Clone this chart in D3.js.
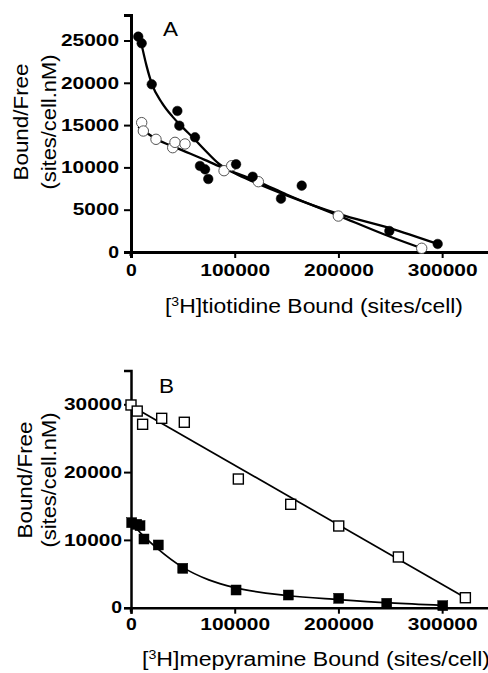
<!DOCTYPE html>
<html>
<head>
<meta charset="utf-8">
<script src="https://cdn.jsdelivr.net/npm/d3@7"></script>
<style>
body { margin: 0; background: #fff; }
svg { display: block; }
</style>
</head>
<body>
<svg id="chart" width="488" height="673"></svg>
<script>
// ---- panel A : [3H]tiotidine ----
var tioFilledX = [7000, 10300, 20000, 44700, 46600, 61700, 66500, 71400, 74500, 101300, 117300, 144600, 164600, 249100, 295700];
var tioFilledY = [25450, 24670, 19820, 16670, 14930, 13560, 10170, 9770, 8630, 10370, 8900, 6300, 7840, 2480, 950];
var tioOpenX = [10300, 11900, 24100, 40200, 42400, 52100, 89700, 97100, 122800, 199900, 280300];
var tioOpenY = [15290, 14300, 13320, 12330, 12960, 12770, 9610, 10200, 8310, 4250, 440];
// fitted curves
var tioFilledFitX = [9000, 15000, 20000, 30000, 40000, 50000, 60000, 70000, 85000, 100000, 120000, 150000, 200000, 250000, 295700];
var tioFilledFitY = [25200, 22000, 19900, 17600, 16000, 14700, 13500, 12200, 10400, 9300, 8200, 6700, 4500, 2800, 950];
var tioOpenFitX = [7000, 23000, 45000, 70000, 86000, 122800, 150000, 200000, 250000, 280300];
var tioOpenFitY = [14800, 13450, 12250, 10950, 10080, 8300, 6800, 4300, 1800, 440];

// ---- panel B : [3H]mepyramine ----
var mepOpenX = [0, 6000, 11200, 29600, 51400, 103500, 154000, 200300, 257800, 322400];
var mepOpenY = [29900, 29000, 27050, 27930, 27350, 18980, 15250, 12050, 7480, 1470];
var mepFilledX = [700, 5500, 8700, 12500, 26300, 49900, 101300, 151700, 200300, 246600, 300600];
var mepFilledY = [12540, 12300, 12100, 10130, 9250, 5810, 2610, 1870, 1390, 650, 300];
var mepOpenFitX = [0, 322400];
var mepOpenFitY = [29800, 1470];
var mepFilledFitX = [0, 10000, 25000, 50000, 75000, 100000, 150000, 200000, 250000, 300000];
var mepFilledFitY = [12600, 10900, 8800, 5950, 4100, 2950, 1800, 1200, 700, 350];

var xTicks = [0, 100000, 200000, 300000];
var yTicksA = [0, 5000, 10000, 15000, 20000, 25000];
var yTicksB = [0, 10000, 20000, 30000];

var svg = d3.select('#chart');
var font = 'Liberation Sans, Arial, Helvetica, sans-serif';

function pts(xs, ys){ return xs.map(function(d,i){ return {x: d, y: ys[i]} }) }

function panel(opt){
    var x = d3.scaleLinear().domain([0, 350000]).range([131, 494]);
    var y = d3.scaleLinear().domain([0, opt.yMax]).range([opt.y0, opt.yTop]);
    var g = svg.append('g');

    var xa = g.append('g').attr('transform', 'translate(0,' + opt.y0 + ')')
        .call(d3.axisBottom(x).tickValues(xTicks).tickFormat(d3.format('d')).tickSizeOuter(0).tickSize(6).tickPadding(opt.xPad));
    var ya = g.append('g').attr('transform', 'translate(131,0)')
        .call(d3.axisLeft(y).tickValues(opt.yTicks).tickFormat(d3.format('d')).tickSizeOuter(0).tickSize(7).tickPadding(opt.yPad));
    [xa, ya].forEach(function(a){
        a.select('.domain').attr('stroke', '#000').attr('stroke-width', opt.axisW);
        a.selectAll('.tick line').attr('stroke', '#000').attr('stroke-width', 2);
        a.selectAll('.tick text')
            .attr('fill', '#000')
            .style('font-family', font).style('font-size', '16.5px').style('font-weight', 'bold')
            .attr('textLength', function(d){ return String(d).length * 11.8 - 1 })
            .attr('lengthAdjust', 'spacingAndGlyphs');
    });
    // y axis reaches a bit below the x axis
    g.append('line').attr('x1', 131).attr('x2', 131).attr('y1', opt.y0).attr('y2', opt.y0 + 4)
        .attr('stroke', '#000').attr('stroke-width', opt.axisW);

    var line = d3.line().x(function(d){ return x(d.x) }).y(function(d){ return y(d.y) }).curve(d3.curveMonotoneX);
    opt.fits.forEach(function(f){
        g.append('path').datum(pts(f[0], f[1]))
            .attr('d', line).attr('fill', 'none').attr('stroke', '#000').attr('stroke-width', opt.lineW);
    });

    opt.marks.forEach(function(m){
        var data = pts(m.xs, m.ys);
        if (m.shape == 'circle') {
            g.selectAll(null).data(data).enter().append('circle')
                .attr('cx', function(d){ return x(d.x) }).attr('cy', function(d){ return y(d.y) })
                .attr('r', m.size)
                .attr('fill', m.fill).attr('stroke', m.stroke).attr('stroke-width', m.sw);
        } else {
            g.selectAll(null).data(data).enter().append('rect')
                .attr('x', function(d){ return x(d.x) - m.size / 2 }).attr('y', function(d){ return y(d.y) - m.size / 2 })
                .attr('width', m.size).attr('height', m.size)
                .attr('fill', m.fill).attr('stroke', m.stroke).attr('stroke-width', m.sw);
        }
    });

    // panel letter
    g.append('text').attr('x', opt.letterX).attr('y', opt.letterY).text(opt.letter)
        .style('font-family', font).style('font-size', '21px')
        .attr('textLength', 15).attr('lengthAdjust', 'spacingAndGlyphs');

    // y title (two lines)
    [['Bound/Free', opt.yt1, 117], ['(sites/cell.nM)', opt.yt2, 135]].forEach(function(t){
        g.append('text')
            .attr('transform', 'translate(' + t[1] + ',' + opt.ytC + ') rotate(-90)')
            .attr('text-anchor', 'middle')
            .style('font-family', font).style('font-size', '19.5px')
            .attr('textLength', t[2]).attr('lengthAdjust', 'spacingAndGlyphs')
            .text(t[0]);
    });

    // x title with superscript
    var xt = g.append('text').attr('x', opt.xtX).attr('y', opt.xtY)
        .style('font-family', font).style('font-size', '19.5px')
        .attr('textLength', opt.xtLen).attr('lengthAdjust', 'spacingAndGlyphs');
    xt.append('tspan').text('[');
    xt.append('tspan').attr('dy', -7).style('font-size', '12px').text('3');
    xt.append('tspan').attr('dy', 7).text('H]' + opt.xtText);
}

panel({
    yMax: 28000, y0: 252, yTop: 15.1, yTicks: yTicksA, xPad: 6, yPad: 5, axisW: 3, lineW: 2.3,
    fits: [[tioFilledFitX, tioFilledFitY], [tioOpenFitX, tioOpenFitY]],
    marks: [
        {xs: tioOpenX, ys: tioOpenY, shape: 'circle', size: 5.2, fill: '#fff', stroke: '#555', sw: 1},
        {xs: tioFilledX, ys: tioFilledY, shape: 'circle', size: 4.8, fill: '#000', stroke: '#000', sw: 0.5}
    ],
    letter: 'A', letterX: 163, letterY: 36,
    yt1: 28, yt2: 56, ytC: 122,
    xtX: 165, xtY: 313, xtLen: 298, xtText: 'tiotidine Bound (sites/cell)'
});

panel({
    yMax: 35000, y0: 607.7, yTop: 370.4, yTicks: yTicksB, xPad: 5, yPad: 2, axisW: 2.5, lineW: 1.7,
    fits: [[mepOpenFitX, mepOpenFitY], [mepFilledFitX, mepFilledFitY]],
    marks: [
        {xs: mepOpenX, ys: mepOpenY, shape: 'rect', size: 10, fill: '#fff', stroke: '#000', sw: 1.4},
        {xs: mepFilledX, ys: mepFilledY, shape: 'rect', size: 10, fill: '#000', stroke: '#000', sw: 0.5}
    ],
    letter: 'B', letterX: 159, letterY: 393,
    yt1: 32, yt2: 56, ytC: 480,
    xtX: 142, xtY: 666, xtLen: 348, xtText: 'mepyramine Bound (sites/cell)'
});
</script>
</body>
</html>
